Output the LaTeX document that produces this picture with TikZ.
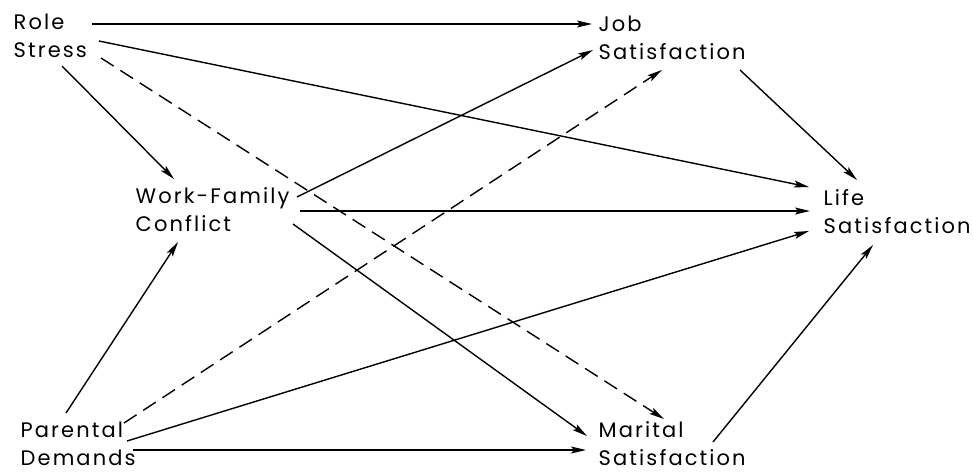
\documentclass[tikz,border=0pt]{standalone}
\usepackage{fontspec}
\newfontfamily\diagfont[LetterSpace=10]{Poppins}
\usetikzlibrary{arrows.meta}

\begin{document}
\begin{tikzpicture}[x=1pt, y=-1pt, >={Stealth[length=15pt, width=7pt, inset=3pt]}, line width=1.4pt,
  var/.style={anchor=north west, inner sep=0pt, align=left, font=\diagfont\fontsize{21}{28}\selectfont},
  guion/.style={dashed, dash pattern=on 15pt off 8pt}]
  \useasboundingbox (0,0) rectangle (974,472);
  % variables
  \node[var] (rs) at (13,13)  {Role\\Stress};
  \node[var] (js) at (598,15) {Job\\Satisfaction};
  \node[var] (wf) at (135,187){Work-Family\\Conflict};
  \node[var] (ls) at (823,189){Life\\Satisfaction};
  \node[var] (pd) at (20,421) {Parental\\Demands};
  \node[var] (ms) at (598,421){Marital\\Satisfaction};
  % efectos directos
  \foreach \a/\pa/\b/\pb in {rs/{(79,11)}/js/{(-6,9)}, rs/{(86,28)}/ls/{(-14,-2)}, rs/{(49,53)}/wf/{(39,-8)},
    wf/{(162,10)}/js/{(-5,35)}, wf/{(165,24)}/ls/{(-13,22)}, wf/{(158,37)}/ms/{(-11,15)},
    pd/{(46,-8)}/wf/{(43,55)}, pd/{(107,20)}/ls/{(-14,42)}, pd/{(113,29)}/ms/{(-12,29)},
    js/{(142,55)}/ls/{(34,-9)}, ms/{(115,21)}/ls/{(50,56)}}{
    \draw[->] ([shift={\pa}]\a.north west) -- ([shift={\pb}]\b.north west);}
  % efectos no significativos
  \draw[->, guion] ([shift={(88,45)}]rs.north west) -- ([shift={(66,-2)}]ms.north west);
  \draw[->, guion] ([shift={(104,2)}]pd.north west) -- ([shift={(64,55)}]js.north west);
\end{tikzpicture}
\end{document}
